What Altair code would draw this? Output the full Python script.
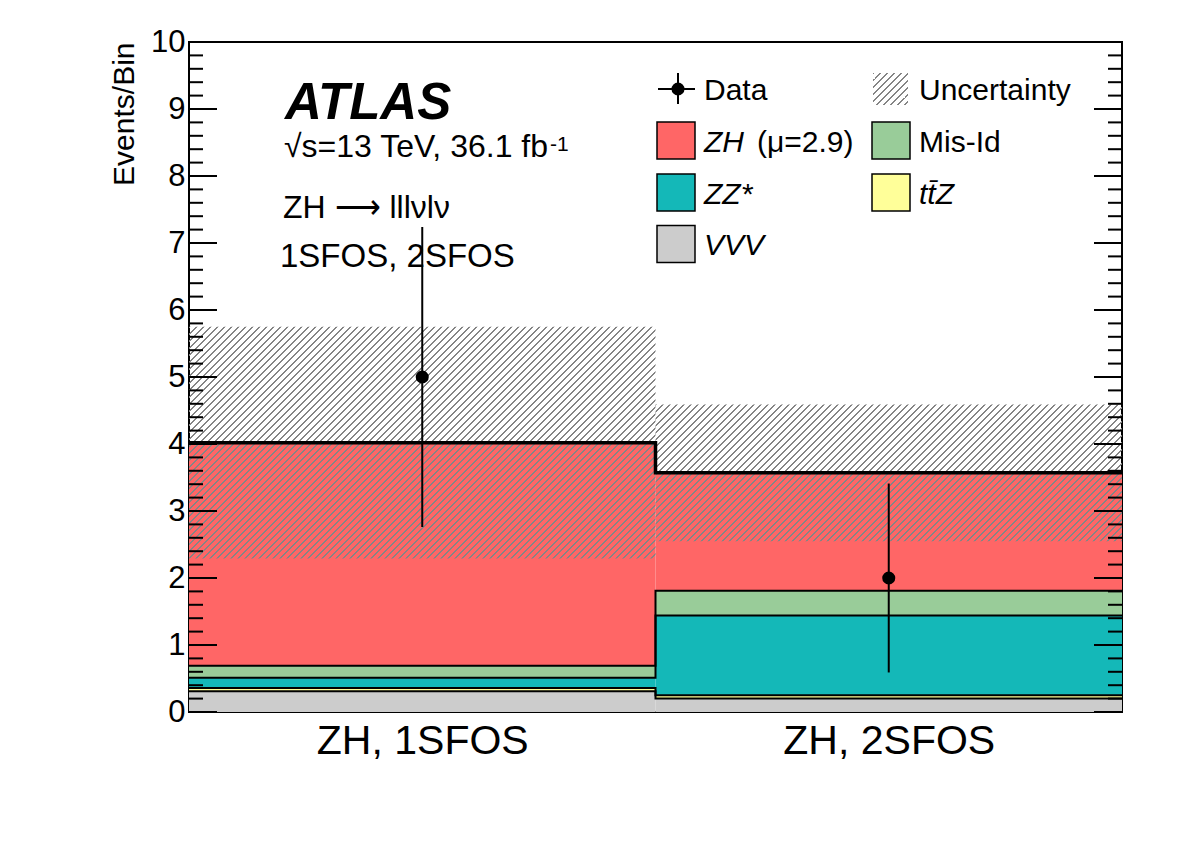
import json
import altair as alt
import pandas as pd

# ---------------- values ----------------
bin_labels = ["ZH, 1SFOS", "ZH, 2SFOS"]
bin_edges = [0, 1, 2]

# stacked predictions, bottom to top
processes = ["VVV", "ttZ", "ZZ*", "Mis-Id", "ZH"]
vvv = [0.31, 0.20]
ttz = [0.05, 0.05]
zz = [0.15, 1.19]
misid = [0.18, 0.37]
zh = [3.33, 1.76]

# total uncertainty on the prediction (symmetric)
pred_unc = [1.73, 1.02]

# observed events and their errors
data_obs = [5, 2]
data_err = [2.24, 1.41]

proc_colors = ["#CCCCCC", "#FFFF99", "#14B8B8", "#99CC99", "#FF6666"]

y_major = list(range(0, 11))
y_minor = [round(0.2 * i, 1) for i in range(51) if i % 5]

# ---------------- layout / style ----------------
FONT = "Liberation Sans"
PW, PH = 933, 670
X_DOM = [bin_edges[0], bin_edges[-1]]
Y_DOM = [0, 10]
CLEAR = "rgba(255,255,255,0)"
HATCH = "#858585"

xs = alt.Scale(domain=X_DOM, nice=False, zero=False)
ys = alt.Scale(domain=Y_DOM, nice=False, zero=False)

# ---------------- tables ----------------
yields = [vvv, ttz, zz, misid, zh]
stack_rows, tops = [], {p: [] for p in processes}
for b in range(len(bin_labels)):
    base = 0.0
    for p, vals in zip(processes, yields):
        stack_rows.append(dict(proc=p, lo=bin_edges[b], hi=bin_edges[b + 1],
                               y0=base, y1=base + vals[b]))
        base += vals[b]
        tops[p].append(base)
stack_df = pd.DataFrame(stack_rows)

step_rows = []
for p in processes:
    for b in range(len(bin_labels)):
        step_rows.append(dict(proc=p, x=bin_edges[b], y=tops[p][b]))
    step_rows.append(dict(proc=p, x=bin_edges[-1], y=tops[p][-1]))
step_df = pd.DataFrame(step_rows)

total = tops["ZH"]
centers = [(bin_edges[i] + bin_edges[i + 1]) / 2 for i in range(len(bin_labels))]
obs_df = pd.DataFrame(dict(xc=centers, n=data_obs,
                           lo=[n - e for n, e in zip(data_obs, data_err)],
                           hi=[n + e for n, e in zip(data_obs, data_err)]))


def hatch(w_px, h_px, period=7.0, line=1.6, color=HATCH):
    """Linear gradient with hard stops that draws '/' hatching at 45 degrees."""
    s = w_px + h_px
    k = s / (w_px ** 2 + h_px ** 2)
    stops = []
    i = 0
    while i * period < s:
        a = i * period / s
        b = min((i * period + line) / s, 1.0)
        stops += [dict(offset=a, color=CLEAR), dict(offset=a, color=color),
                  dict(offset=b, color=color), dict(offset=b, color=CLEAR)]
        i += 1
    return dict(gradient="linear", x1=0, y1=0, x2=w_px * k, y2=h_px * k, stops=stops)


one = pd.DataFrame({"_": [0]})

x_axis = alt.Axis(values=centers, labelExpr=f"{json.dumps(bin_labels)}[floor(datum.value)]",
                  ticks=False, domain=False, grid=False, labelFont=FONT, labelFontSize=41,
                  labelColor="black", labelPadding=9, labelFlush=False, labelOverlap=False,
                  labelLimit=0, title=None)
y_axis = alt.Axis(values=y_major, ticks=False, domain=False, grid=False, labelFont=FONT,
                  labelFontSize=31, labelColor="black", labelPadding=4, labelFlush=False,
                  labelOverlap=False, title="Events/Bin", titleFont=FONT, titleFontSize=30,
                  titleFontWeight="normal", titleColor="black", titleAngle=-90,
                  titleX=-56, titleY=0, titleAlign="right", titleBaseline="alphabetic")


def X(field):
    return alt.X(field, scale=xs, axis=x_axis)


def Y(field):
    return alt.Y(field, scale=ys, axis=y_axis)


# ---------------- stacked histogram ----------------
fills = alt.Chart(stack_df).mark_rect(strokeWidth=0).encode(
    x=X("lo:Q"), x2="hi:Q",
    y=Y("y0:Q"), y2="y1:Q",
    fill=alt.Fill("proc:N", scale=alt.Scale(domain=processes, range=proc_colors), legend=None),
)

outlines = alt.Chart(step_df).transform_filter(alt.datum.proc != "ZH").mark_line(
    interpolate="step-after", color="black", strokeWidth=2
).encode(x=X("x:Q"), y=Y("y:Q"), detail="proc:N")

total_line = alt.Chart(step_df).transform_filter(alt.datum.proc == "ZH").mark_line(
    interpolate="step-after", color="black", strokeWidth=3.5
).encode(x=X("x:Q"), y=Y("y:Q"))

# ---------------- uncertainty band ----------------
bands = []
for b in range(len(bin_labels)):
    w_px = PW * (bin_edges[b + 1] - bin_edges[b]) / (X_DOM[1] - X_DOM[0])
    h_px = PH * (2 * pred_unc[b]) / (Y_DOM[1] - Y_DOM[0])
    band_df = pd.DataFrame(dict(lo=[bin_edges[b]], hi=[bin_edges[b + 1]],
                                d=[total[b] - pred_unc[b]], u=[total[b] + pred_unc[b]]))
    bands.append(
        alt.Chart(band_df).mark_rect(fill=hatch(w_px, h_px), strokeWidth=0).encode(
            x=X("lo:Q"), x2="hi:Q", y=Y("d:Q"), y2="u:Q",
        )
    )

# ---------------- data ----------------
err_bars = alt.Chart(obs_df).mark_rule(color="black", strokeWidth=2).encode(
    x=X("xc:Q"), y=Y("lo:Q"), y2="hi:Q",
)
points = alt.Chart(obs_df).mark_circle(size=170, color="black", opacity=1).encode(
    x=X("xc:Q"), y=Y("n:Q"),
)


# ---------------- inward ticks on both vertical axes ----------------
def ticks(values, length, side):
    x0, x1 = (0, length) if side == "left" else (PW - length, PW)
    return alt.Chart(pd.DataFrame({"v": values})).mark_rule(color="black", strokeWidth=2).encode(
        y=Y("v:Q"), x=alt.value(x0), x2=alt.value(x1)
    )


tick_layers = [ticks(y_major, 28, "left"), ticks(y_minor, 14, "left"),
               ticks(y_major, 28, "right"), ticks(y_minor, 14, "right")]


# ---------------- annotations ----------------
def text(t, x, y, size, align="left", **kw):
    return alt.Chart(one).mark_text(text=t, align=align, baseline="alphabetic", font=FONT,
                                    fontSize=size, color="black", **kw).encode(
        x=alt.value(x), y=alt.value(y))


notes = [
    text("ATLAS", 96, 77, 51, fontWeight="bold", fontStyle="italic"),
    text("\u221As=13 TeV, 36.1 fb", 95, 115, 32),
    text("-1", 361, 109, 21),
    text("ZH \u27f6 lll\u03bdl\u03bd", 94, 176, 32),
    text("1SFOS, 2SFOS", 91, 225, 33),
]

# ---------------- legend ----------------
LEG_X = [468, 683]
LEG_Y = [47, 98.5, 150.5, 202]
BOX_W, BOX_H, TXT_DX = 38, 37, 47

legend = []
# Data: marker with error cross
legend.append(alt.Chart(one).mark_rule(color="black", strokeWidth=2).encode(
    x=alt.value(LEG_X[0] + 1), x2=alt.value(LEG_X[0] + BOX_W), y=alt.value(LEG_Y[0])))
legend.append(alt.Chart(one).mark_rule(color="black", strokeWidth=2).encode(
    x=alt.value(LEG_X[0] + 21), y=alt.value(LEG_Y[0] - 16), y2=alt.value(LEG_Y[0] + 15)))
legend.append(alt.Chart(one).mark_circle(size=170, color="black", opacity=1).encode(
    x=alt.value(LEG_X[0] + 21), y=alt.value(LEG_Y[0])))
legend.append(text("Data", LEG_X[0] + TXT_DX, LEG_Y[0] + 11, 30))
# Uncertainty: hatched swatch
legend.append(alt.Chart(one).mark_rect(fill=hatch(35, 32), strokeWidth=0).encode(
    x=alt.value(LEG_X[1] + 1), x2=alt.value(LEG_X[1] + 36),
    y=alt.value(LEG_Y[0] - 16), y2=alt.value(LEG_Y[0] + 16)))
legend.append(text("Uncertainty", LEG_X[1] + TXT_DX, LEG_Y[0] + 11, 30))

swatches = [("ZH", 0, 1), ("Mis-Id", 1, 1), ("ZZ*", 0, 2), ("ttZ", 1, 2), ("VVV", 0, 3)]
for proc, col, row in swatches:
    color = proc_colors[processes.index(proc)]
    legend.append(alt.Chart(one).mark_rect(fill=color, stroke="black", strokeWidth=1.5).encode(
        x=alt.value(LEG_X[col]), x2=alt.value(LEG_X[col] + BOX_W),
        y=alt.value(LEG_Y[row] - BOX_H / 2), y2=alt.value(LEG_Y[row] + BOX_H / 2)))

legend += [
    text("ZH", LEG_X[0] + TXT_DX, LEG_Y[1] + 11, 30, fontStyle="italic"),
    text("(\u03bc=2.9)", LEG_X[0] + 100, LEG_Y[1] + 11, 30),
    text("Mis-Id", LEG_X[1] + TXT_DX, LEG_Y[1] + 11, 30),
    text("ZZ*", LEG_X[0] + TXT_DX, LEG_Y[2] + 11, 30, fontStyle="italic"),
    text("tt\u0304Z", LEG_X[1] + TXT_DX, LEG_Y[2] + 11, 30, fontStyle="italic"),
    text("VVV", LEG_X[0] + TXT_DX, LEG_Y[3] + 11, 30, fontStyle="italic"),
]

chart = alt.layer(
    fills, outlines, *bands, total_line, err_bars, points, *tick_layers, *notes, *legend
).properties(
    width=PW, height=PH,
    autosize=alt.AutoSizeParams(type="none"),
    padding={"left": 189, "top": 42, "right": 60, "bottom": 136},
    background="white",
).configure_view(stroke="black", strokeWidth=2)

chart.save("out.html", embed_options={"renderer": "svg", "actions": False})
